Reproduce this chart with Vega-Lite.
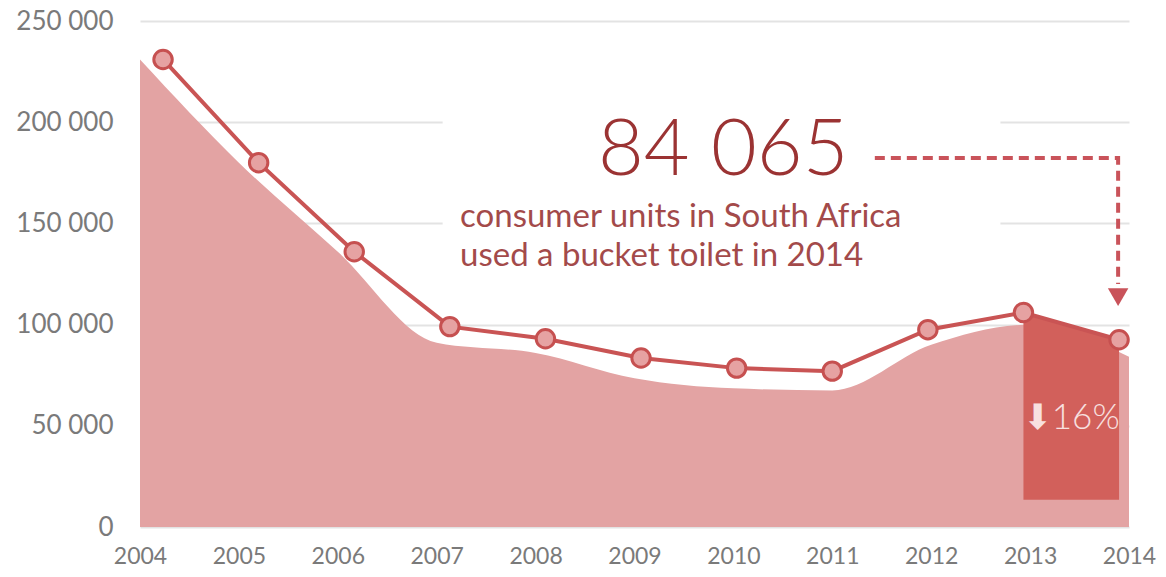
{
  "$schema": "https://vega.github.io/schema/vega-lite/v6.json",
  "width": 989,
  "height": 506,
  "autosize": {"type": "none"},
  "padding": {"left": 140, "top": 21, "right": 37, "bottom": 50},
  "background": "white",
  "config": {
    "view": {"stroke": null},
    "font": "Lato",
    "axis": {"domain": false, "ticks": false, "title": null, "labelFont": "Lato", "labelColor": "#7a7a7a"},
    "axisX": {"grid": false, "labelFontSize": 23, "labelPadding": 18, "labelAngle": 0, "labelFlush": false, "labelOverlap": false},
    "axisY": {"grid": true, "gridColor": "#e3e3e3", "gridWidth": 2, "labelFontSize": 26, "labelPadding": 27}
  },
  "datasets": {
    "series": [
      {"year": 2004, "units": 231000, "marker": 231000},
      {"year": 2005, "units": 180000, "marker": 180000},
      {"year": 2006, "units": 136000, "marker": 136000},
      {"year": 2007, "units": 91000, "marker": 99000},
      {"year": 2008, "units": 86000, "marker": 93000},
      {"year": 2009, "units": 73500, "marker": 83500},
      {"year": 2010, "units": 68500, "marker": 78500},
      {"year": 2011, "units": 67500, "marker": 77000},
      {"year": 2012, "units": 90000, "marker": 97500},
      {"year": 2013, "units": 100000, "marker": 106000},
      {"year": 2014, "units": 84065, "marker": 92500}
    ]
  },
  "resolve": {"scale": {"x": "independent"}},
  "layer": [
    {
      "layer": [
        {
          "data": {"values": [{"x1": 2007.06, "x2": 2012.7, "y1": 137000, "y2": 212000}]},
          "mark": {"type": "rect", "color": "white"},
          "encoding": {
            "x": {"field": "x1", "type": "quantitative", "scale": {"domain": [2004, 2014], "nice": false, "zero": false},
                  "axis": {"values": [2004, 2005, 2006, 2007, 2008, 2009, 2010, 2011, 2012, 2013, 2014], "format": "d"}},
            "x2": {"field": "x2"},
            "y": {"field": "y1", "type": "quantitative", "scale": {"domain": [0, 250000], "nice": false},
                  "axis": {"values": [0, 50000, 100000, 150000, 200000, 250000], "labelExpr": "replace(format(datum.value, ','), ',', ' ')"}},
            "y2": {"field": "y2"}
          }
        },
        {
          "data": {"name": "series"},
          "mark": {"type": "area", "color": "#e3a3a3", "interpolate": "monotone"},
          "encoding": {
            "x": {"field": "year", "type": "quantitative"},
            "y": {"field": "units", "type": "quantitative"}
          }
        },
        {
          "data": {"values": [{"x": 2008.63, "y": 173900, "label": "84 065"}]},
          "mark": {"type": "text", "align": "left", "baseline": "alphabetic", "fontSize": 79, "fontWeight": 300, "color": "#9b3333"},
          "encoding": {
            "x": {"field": "x", "type": "quantitative"},
            "y": {"field": "y", "type": "quantitative"},
            "text": {"field": "label"}
          }
        },
        {
          "data": {"values": [{"x": 2007.236, "y": 148200, "label": ["consumer units in South Africa", "used a bucket toilet in 2014"]}]},
          "mark": {"type": "text", "align": "left", "baseline": "alphabetic", "fontSize": 33, "lineHeight": 39, "color": "#a34a4a"},
          "encoding": {
            "x": {"field": "x", "type": "quantitative"},
            "y": {"field": "y", "type": "quantitative"},
            "text": {"field": "label"}
          }
        },
        {
          "data": {"values": [
            {"x": 2011.43, "y": 182300, "o": 1},
            {"x": 2013.89, "y": 182300, "o": 2},
            {"x": 2013.89, "y": 120000, "o": 3}
          ]},
          "mark": {"type": "line", "color": "#c9535a", "strokeWidth": 4, "strokeDash": [10, 6]},
          "encoding": {
            "x": {"field": "x", "type": "quantitative"},
            "y": {"field": "y", "type": "quantitative"},
            "order": {"field": "o"}
          }
        },
        {
          "data": {"values": [{"x": 2013.89, "y": 113600}]},
          "mark": {"type": "point", "shape": "triangle-down", "filled": true, "color": "#c9535a", "size": 420, "opacity": 1},
          "encoding": {
            "x": {"field": "x", "type": "quantitative"},
            "y": {"field": "y", "type": "quantitative"}
          }
        }
      ]
    },
    {
      "layer": [
        {
          "data": {"name": "series"},
          "transform": [{"filter": "datum.year >= 2013"}],
          "mark": {"type": "area", "color": "#d2605b", "interpolate": "linear"},
          "encoding": {
            "x": {"field": "year", "type": "quantitative", "scale": {"domain": [2003.759, 2014.104], "nice": false, "zero": false}, "axis": null},
            "y": {"field": "marker", "type": "quantitative"},
            "y2": {"datum": 13500}
          }
        },
        {
          "data": {"values": [{"x": 2013.5, "y": 53900, "label": "⬇16%"}]},
          "mark": {"type": "text", "align": "center", "baseline": "middle", "fontSize": 35, "fontWeight": 300, "color": "#f8e0e0"},
          "encoding": {
            "x": {"field": "x", "type": "quantitative"},
            "y": {"field": "y", "type": "quantitative"},
            "text": {"field": "label"}
          }
        },
        {
          "data": {"name": "series"},
          "mark": {"type": "line", "color": "#c95454", "strokeWidth": 4},
          "encoding": {
            "x": {"field": "year", "type": "quantitative"},
            "y": {"field": "marker", "type": "quantitative"}
          }
        },
        {
          "data": {"name": "series"},
          "mark": {"type": "point", "filled": true, "fill": "#e6a2a2", "stroke": "#c65050", "strokeWidth": 3, "size": 340, "opacity": 1},
          "encoding": {
            "x": {"field": "year", "type": "quantitative"},
            "y": {"field": "marker", "type": "quantitative"}
          }
        }
      ]
    }
  ]
}
